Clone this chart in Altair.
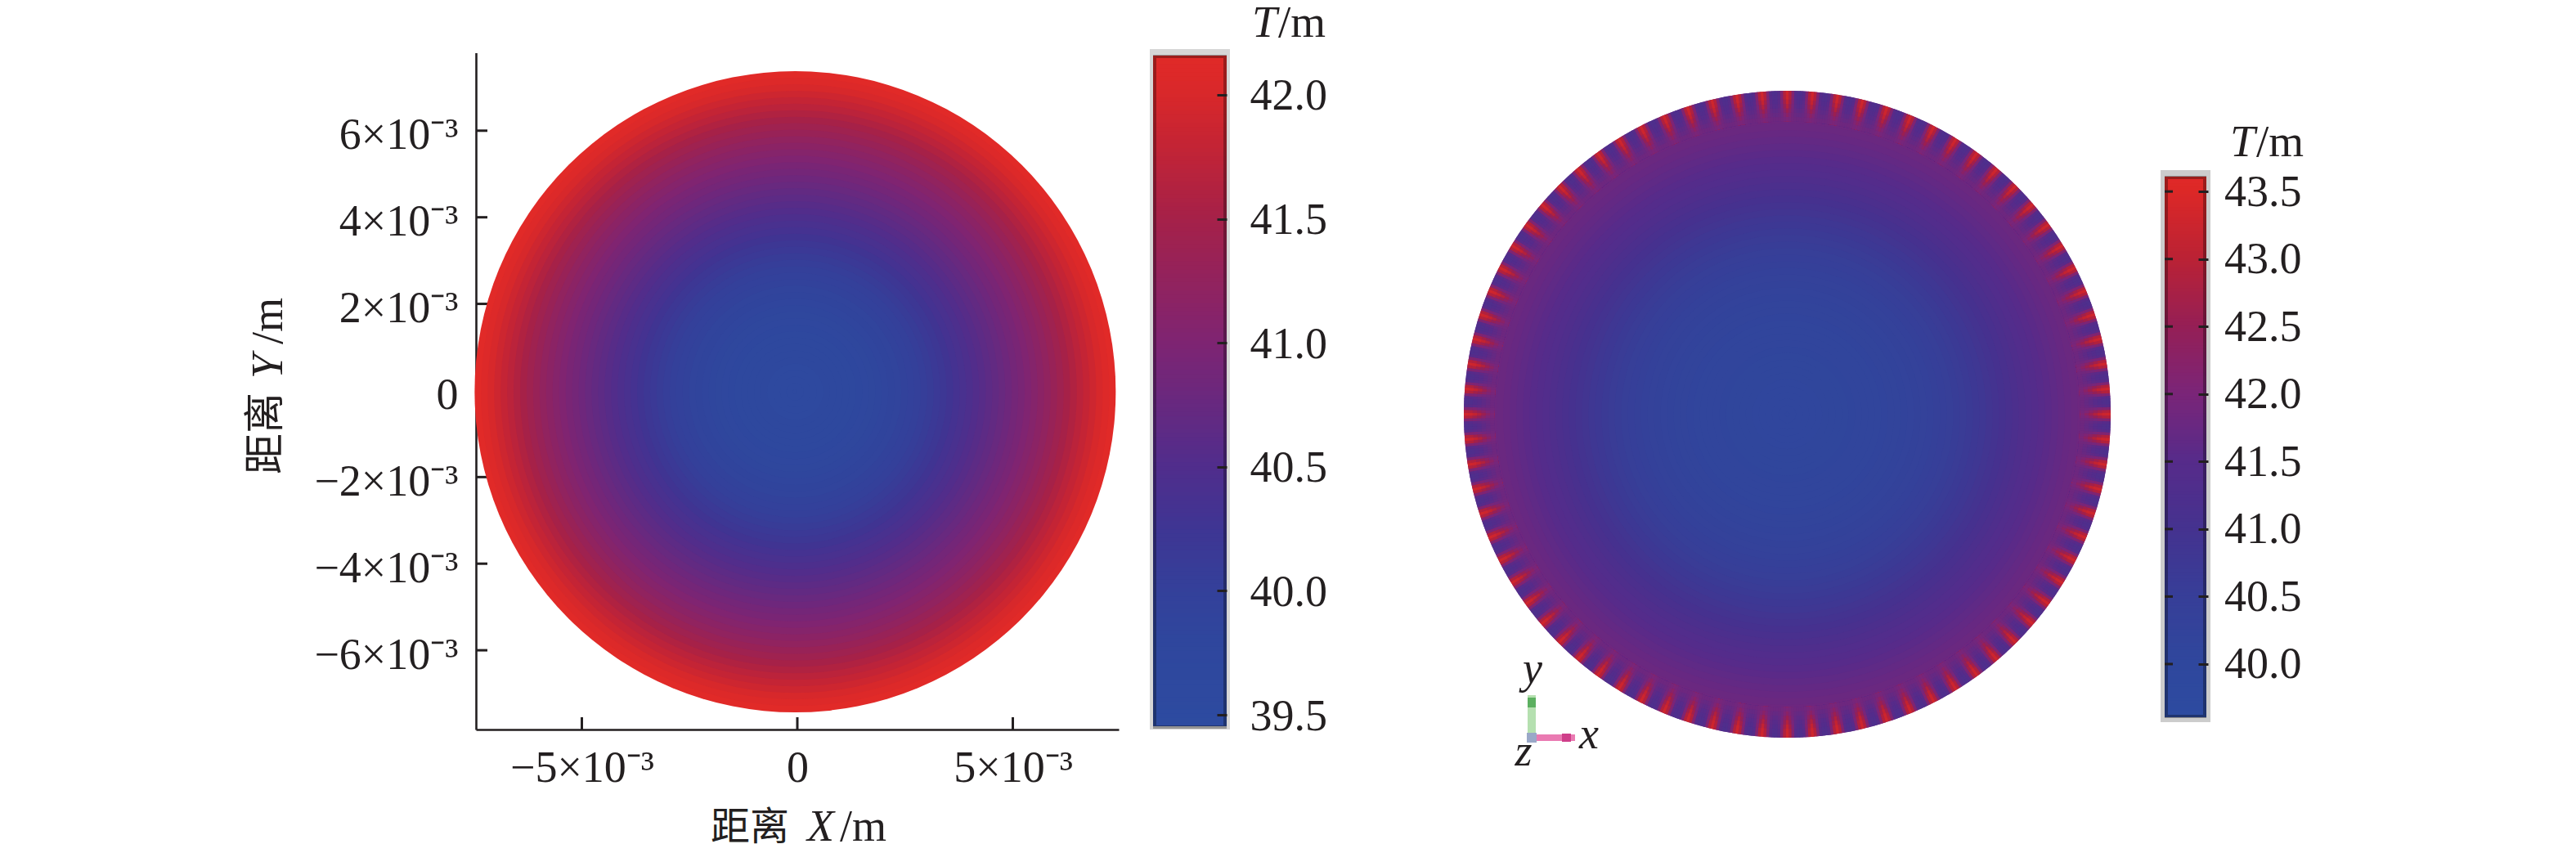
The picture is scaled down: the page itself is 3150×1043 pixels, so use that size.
import math
import numpy as np
import pandas as pd
import altair as alt

M = 8  # page margin
INK = "#231f20"
SERIF = "Liberation Serif"
CJK = "Noto Sans CJK SC"

# radial temperature profiles (radius in 1e-3 m)
radii = [7.40, 7.25, 7.10, 6.95, 6.80, 6.65, 6.50, 6.35, 6.20, 6.05,
         5.90, 5.75, 5.60, 5.45, 5.30, 5.15, 5.00, 4.85, 4.70, 4.55,
         4.40, 4.25, 4.10, 3.95, 3.80, 3.65, 3.50, 3.35, 3.20, 3.05,
         2.90, 2.75, 2.60, 2.45, 2.30, 2.15, 2.00, 1.85, 1.70, 1.55,
         1.40, 1.25, 1.10, 0.95, 0.80, 0.65, 0.50, 0.35, 0.20, 0.05]
left_T = [42.16, 42.08, 41.98, 41.88, 41.79, 41.70, 41.60, 41.50, 41.41, 41.32,
          41.23, 41.15, 41.08, 41.01, 40.94, 40.88, 40.81, 40.75, 40.69, 40.63,
          40.57, 40.51, 40.45, 40.39, 40.33, 40.27, 40.21, 40.15, 40.10, 40.05,
          40.00, 39.96, 39.92, 39.88, 39.85, 39.82, 39.79, 39.76, 39.74, 39.71,
          39.69, 39.67, 39.66, 39.64, 39.63, 39.62, 39.61, 39.61, 39.60, 39.60]
right_T = [41.90, 41.90, 41.88, 41.85, 41.81, 41.77, 41.72, 41.67, 41.61, 41.55,
           41.49, 41.42, 41.35, 41.27, 41.20, 41.12, 41.04, 40.96, 40.88, 40.80,
           40.73, 40.66, 40.59, 40.53, 40.47, 40.42, 40.38, 40.34, 40.30, 40.27,
           40.24, 40.21, 40.19, 40.17, 40.15, 40.13, 40.12, 40.11, 40.10, 40.09,
           40.08, 40.07, 40.06, 40.06, 40.05, 40.05, 40.05, 40.05, 40.05, 40.05]

# rim of the right disc: one fin, from its centre line to the gap next to it
spike_count = 80
rim_radii = [7.40, 7.30, 7.20, 7.10, 7.00, 6.90, 6.80]
rim_T = [[43.30, 42.90, 42.10, 41.45, 41.25],
         [43.25, 42.85, 42.10, 41.50, 41.30],
         [43.10, 42.65, 42.05, 41.55, 41.40],
         [42.85, 42.45, 41.95, 41.60, 41.50],
         [42.55, 42.25, 41.90, 41.68, 41.60],
         [42.25, 42.05, 41.85, 41.75, 41.70],
         [42.00, 41.93, 41.86, 41.82, 41.80]]

# colour bars
left_stops = [39.45, 39.8, 40.0, 40.25, 40.5, 41.0, 41.5, 41.8, 42.0, 42.16]
left_colors = ["#2d4ba0", "#2f469d", "#34409a", "#3f3593", "#512d8c",
               "#7f2472", "#a62148", "#c52434", "#d9282a", "#e12a28"]
right_stops = [39.6, 40.0, 40.5, 41.0, 41.5, 42.0, 42.5, 43.0, 43.5, 43.61]
right_colors = ["#2d4ba0", "#2f479d", "#373e98", "#45328f", "#572b8a",
                "#7b2578", "#961f55", "#bb2234", "#dd2827", "#e02a28"]
left_ticks = [39.5, 40.0, 40.5, 41.0, 41.5, 42.0]
right_ticks = [40.0, 40.5, 41.0, 41.5, 42.0, 42.5, 43.0, 43.5]
x_ticks = [-5, 0, 5]
y_ticks = [-6, -4, -2, 0, 2, 4, 6]

W, H = 3134, 1032


def px(v):
    return v - M


def label(txt, x, y, size=54, font=SERIF, italic=False, angle=0, align="left", baseline="alphabetic"):
    kw = dict(text=txt, font=font, fontSize=size, color=INK, align=align, baseline=baseline)
    if italic:
        kw["fontStyle"] = "italic"
    if angle:
        kw["angle"] = angle
    return alt.Chart(pd.DataFrame({"a": [0]})).mark_text(**kw).encode(x=alt.value(px(x)), y=alt.value(px(y)))


def lin(domain, rng):
    return alt.Scale(domain=domain, range=[px(rng[0]), px(rng[1])], nice=False, zero=False)


def color_scale(stops, colors):
    return alt.Scale(domain=stops, range=colors, interpolate="rgb")


def disc(df, x_sc, y_sc, r_px, c_sc):
    enc = dict(
        x=alt.X("cx:Q", scale=x_sc, axis=None),
        y=alt.Y("cy:Q", scale=y_sc, axis=None),
        theta=alt.Theta("t0:Q", scale=None),
        theta2=alt.Theta2("t1:Q"),
        radius=alt.Radius("r:Q", scale=alt.Scale(type="linear", domain=[0, 7.4], range=[0, r_px], zero=True, nice=False)),
        radius2=alt.Radius2("r0:Q"),
        color=alt.Color("T:Q", scale=c_sc, legend=None),
    )
    return alt.Chart(df).mark_arc().encode(**enc)


def rings(temps, cx, cy):
    return pd.DataFrame({"r": radii, "r0": [0.0] * len(radii), "T": temps, "cx": cx, "cy": cy,
                         "t0": 0.0, "t1": 2 * math.pi})


def bar_cells(lo, hi):
    edges = np.linspace(lo, hi, 161)
    return pd.DataFrame({"T": edges[:-1], "v0": edges[:-1], "v1": np.minimum(edges[1:] + (hi - lo) / 160, hi)})


def color_bar(lo, hi, y_rng, x0, x1, c_sc, ticks, axis_x, tick_len, label_gap, label_off):
    y_sc = lin([lo, hi], y_rng)
    cells = alt.Chart(bar_cells(lo, hi)).mark_rect().encode(
        x=alt.value(px(x0)), x2=alt.value(px(x1)),
        y=alt.Y("v0:Q", scale=y_sc, axis=None), y2="v1:Q",
        color=alt.Color("T:Q", scale=c_sc, legend=None),
    )
    axis_layer = alt.Chart(pd.DataFrame({"v": ticks})).mark_rule(opacity=0).encode(
        x=alt.value(px(axis_x)), x2=alt.value(px(axis_x)),
        y=alt.Y("v:Q", scale=y_sc, axis=alt.Axis(
            orient="right", offset=px(axis_x) - W, values=ticks, format=".1f", title=None,
            domain=False, grid=False, tickSize=tick_len, tickWidth=3, tickColor=INK,
            labelFont=SERIF, labelFontSize=54, labelColor=INK, labelPadding=label_gap,
            labelOffset=label_off, labelOverlap=False, zindex=1)),
    )
    return cells, axis_layer, y_sc


def frame(x0, x1, y0, y1, color, sw, op=1.0):
    return alt.Chart(pd.DataFrame({"a": [0]})).mark_rect(fillOpacity=0, stroke=color, strokeWidth=sw, strokeOpacity=op).encode(
        x=alt.value(px(x0)), x2=alt.value(px(x1)), y=alt.value(px(y0)), y2=alt.value(px(y1)))


def block(x0, x1, y0, y1, color):
    return alt.Chart(pd.DataFrame({"a": [0]})).mark_rect(fill=color).encode(
        x=alt.value(px(x0)), x2=alt.value(px(x1)), y=alt.value(px(y0)), y2=alt.value(px(y1)))


layers = []

# ---- left panel ----
lx = lin([-7.457, 7.457], (582, 1368))
ly = lin([-7.83, 7.80], (892, 64.5))
lab_expr = "datum.value == 0 ? '0' : format(datum.value, 'd') + '×10⁻³'"
axis_common = dict(title=None, grid=False, ticks=False, domainColor=INK, domainWidth=2.6,
                   labelFont=SERIF, labelFontSize=54, labelColor=INK, labelExpr=lab_expr,
                   labelOverlap=False, labelFlush=False)
layers.append(alt.Chart(pd.DataFrame({"v": x_ticks})).mark_rule(color=INK, strokeWidth=3).encode(
    x=alt.X("v:Q", scale=lx, axis=alt.Axis(orient="bottom", offset=px(892) - H, values=x_ticks, labelPadding=20, **axis_common)),
    y=alt.value(px(877)), y2=alt.value(px(892))))
layers.append(alt.Chart(pd.DataFrame({"v": y_ticks})).mark_rule(color=INK, strokeWidth=3).encode(
    y=alt.Y("v:Q", scale=ly, axis=alt.Axis(orient="left", offset=-px(582), values=y_ticks, labelPadding=22, labelOffset=6, **axis_common)),
    x=alt.value(px(582)), x2=alt.value(px(596))))

lc = color_scale(left_stops, left_colors)
layers.append(disc(rings(left_T, -0.05, -0.03), lx, ly, 392, lc))

layers.append(block(1406, 1504, 60, 892, "#d6d6d6"))
cells, ax, _ = color_bar(39.454, 42.158, (888, 68), 1410, 1500, lc, left_ticks, 1488, 12, 28, 2)
layers += [cells, frame(1412, 1498, 69, 889, "#000000", 4, 0.3), ax]

layers += [label("T", 1531, 45, 55, italic=True), label("/m", 1563, 45, 55)]
layers += [label("距离", 917, 1013, 48, font=CJK, align="center", baseline="middle"),
           label("X", 987, 1028, 54, italic=True), label("/m", 1027, 1028, 54)]
layers += [label("距离", 326, 530, 50, font=CJK, angle=270, align="center", baseline="middle"),
           label("Y", 345, 463, 54, italic=True, angle=270), label("/m", 345, 421, 54, angle=270)]

# ---- right panel ----
rx = lin([-1, 1], (1790, 2581))
ry = lin([-1, 1], (902, 111))
rc = color_scale(right_stops, right_colors)
layers.append(disc(rings(right_T, 0.0, 0.0), rx, ry, 395.5, rc))

band = 0.5
rows = []
for r, temps in zip(rim_radii, rim_T):
    for k in range(spike_count):
        centre = k * 360 / spike_count
        for j in range(-4, 5):
            a0 = centre + (j - 0.5) * band
            rows.append({"r": r, "r0": 6.7, "T": temps[abs(j)], "cx": 0.0, "cy": 0.0,
                         "t0": math.radians(a0), "t1": math.radians(a0 + band + 0.06)})
layers.append(disc(pd.DataFrame(rows), rx, ry, 395.5, rc))

layers.append(block(2642, 2703, 208, 883, "#cccccc"))
cells, ax, ry_bar = color_bar(39.606, 43.61, (877, 216), 2647, 2698, rc, right_ticks, 2688, 12, 19.5, 1)
layers += [cells, frame(2649, 2696, 217, 876, "#000000", 4, 0.3), ax]
layers.append(alt.Chart(pd.DataFrame({"v": right_ticks})).mark_rule(color=INK, strokeWidth=3).encode(
    y=alt.Y("v:Q", scale=ry_bar, axis=None), x=alt.value(px(2647)), x2=alt.value(px(2657))))
layers += [label("T", 2727, 191, 55, italic=True), label("/m", 2759, 191, 55)]

# coordinate triad
layers.append(alt.Chart(pd.DataFrame({"a": [0]})).mark_rule(color="#b5e0b0", strokeWidth=10).encode(
    x=alt.value(px(1873)), y=alt.value(px(850)), y2=alt.value(px(896))))
layers.append(alt.Chart(pd.DataFrame({"a": [0]})).mark_rule(color="#5cb060", strokeWidth=10).encode(
    x=alt.value(px(1873)), y=alt.value(px(853)), y2=alt.value(px(865))))
layers.append(alt.Chart(pd.DataFrame({"a": [0]})).mark_rule(color="#ea7ab2", strokeWidth=8).encode(
    y=alt.value(px(902)), x=alt.value(px(1878)), x2=alt.value(px(1926))))
layers.append(alt.Chart(pd.DataFrame({"a": [0]})).mark_rule(color="#cf3f8a", strokeWidth=10).encode(
    y=alt.value(px(902)), x=alt.value(px(1910)), x2=alt.value(px(1921))))
layers.append(block(1867, 1879, 896, 908, "#9aa8c8"))
layers += [label("y", 1874, 835, 54, italic=True, align="center"),
           label("x", 1943, 915, 54, italic=True, align="center"),
           label("z", 1863, 936, 54, italic=True, align="center")]

chart = alt.layer(*layers).resolve_scale(
    x="independent", y="independent", color="independent", radius="independent"
).properties(
    width=W, height=H, padding=0, background="white",
    autosize=alt.AutoSizeParams(type="none"),
).configure_view(strokeWidth=0)

chart.save("out.html", embed_options={"renderer": "svg", "actions": False})
